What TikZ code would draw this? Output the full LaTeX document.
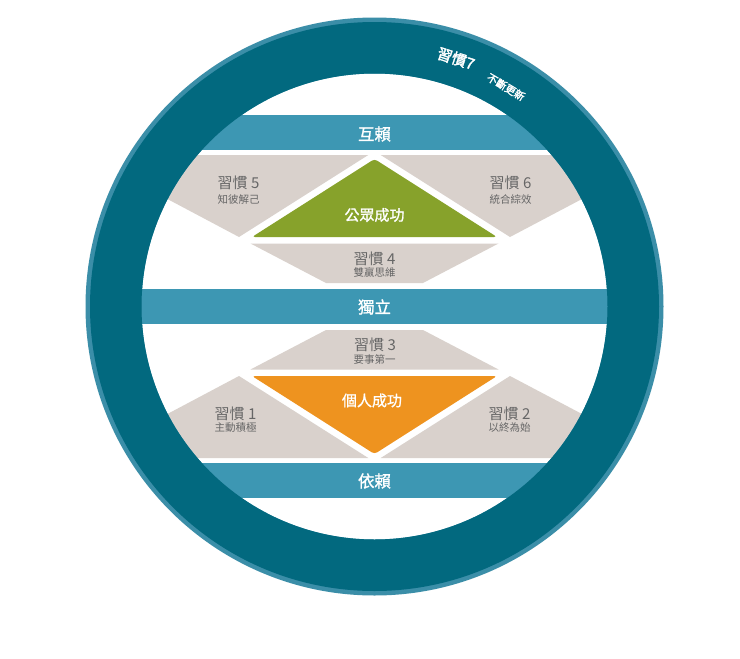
\documentclass[tikz,border=0pt]{standalone}
\usepackage{fontspec}
\setmainfont{Noto Sans CJK TC}
\newfontfamily\medfont{Noto Sans CJK TC}[FakeBold=1.2]
\newfontfamily\boldfont{Noto Sans CJK TC}[FakeBold=2]
\definecolor{ringc}{HTML}{02697F}
\definecolor{rimc}{HTML}{3B8EA8}
\definecolor{bandc}{HTML}{3D97B3}
\definecolor{grayc}{HTML}{D9D1CC}
\definecolor{greenc}{HTML}{87A22B}
\definecolor{orangec}{HTML}{EE931F}
\definecolor{txtc}{HTML}{666666}
\tikzset{
  bandtext/.style={text=white, inner sep=0pt, font=\medfont\fontsize{16.5}{17}\selectfont},
  wintext/.style={text=white, inner sep=0pt, font=\medfont\fontsize{15}{16}\selectfont},
  habittitle/.style={text=txtc, inner sep=0pt, font=\fontsize{15}{16}\selectfont},
  habitsub/.style={text=txtc, inner sep=0pt, font=\fontsize{10.5}{11}\selectfont},
  ringbig/.style={text=white, inner sep=0pt, font=\boldfont\fontsize{15}{15}\selectfont},
  ringsmall/.style={text=white, inner sep=0pt, font=\boldfont\fontsize{10.5}{11}\selectfont},
}
\begin{document}
\begin{tikzpicture}[x=1pt,y=-1pt]
\fill[white] (0,0) rectangle (740,659);
\useasboundingbox (0,0) rectangle (740,659);
\coordinate (c) at (374.5,306.5);
\begin{scope}
  \clip (c) circle[radius=286pt];
  % bands
  \fill[bandc] (0,115) rectangle (740,150);
  \fill[bandc] (0,289) rectangle (740,324);
  \fill[bandc] (0,463) rectangle (740,498);
  % upper half
  \fill[grayc] (239,237) -- (368.3,155) -- (60,155) -- (60,142) -- cycle;
  \fill[grayc] (510,237) -- (380.7,155) -- (690,155) -- (690,142) -- cycle;
  \fill[grayc] (250.5,243.5) -- (498.5,243.5) -- (423,283) -- (326,283) -- cycle;
  \fill[greenc, rounded corners=3pt] (374.5,159) -- (497,237) -- (252,237) -- cycle;
  % lower half
  \fill[grayc] (239,376) -- (368.3,458) -- (60,458) -- (60,471) -- cycle;
  \fill[grayc] (510,376) -- (380.7,458) -- (690,458) -- (690,471) -- cycle;
  \fill[grayc] (250.5,369.5) -- (498.5,369.5) -- (423,330) -- (326,330) -- cycle;
  \fill[orangec, rounded corners=3pt] (374.5,454) -- (497,376) -- (252,376) -- cycle;
\end{scope}
% ring
\fill[rimc, even odd rule] (c) circle[radius=289pt] (c) circle[radius=233pt];
\fill[ringc, even odd rule] (c) circle[radius=284.5pt] (c) circle[radius=233pt];
% band labels
\node[bandtext] (interdep) at (374.5,134) {互賴};
\node[bandtext] (indep) at (374.5,307) {獨立};
\node[bandtext] (dep) at (374.5,481) {依賴};
% victories
\node[wintext] (public) at (374.5,215) {公眾成功};
\node[wintext] (private) at (372,400.5) {個人成功};
% habits
\node[habittitle] (h5) at (238.5,183) {習慣 5};
\node[habitsub] (h5s) at (238.5,199.5) {知彼解己};
\node[habittitle] (h6) at (510.5,183) {習慣 6};
\node[habitsub] (h6s) at (510.5,199.5) {統合綜效};
\node[habittitle] (h4) at (374.5,258.5) {習慣 4};
\node[habitsub] (h4s) at (374.5,272.5) {雙贏思維};
\node[habittitle] (h3) at (375,345) {習慣 3};
\node[habitsub] (h3s) at (374.5,359.5) {要事第一};
\node[habittitle] (h1) at (235.5,414) {習慣 1};
\node[habitsub] (h1s) at (235.5,428) {主動積極};
\node[habittitle] (h2) at (509.5,414) {習慣 2};
\node[habitsub] (h2s) at (509.5,428) {以終為始};
% ring text
\node[ringbig, rotate=-18.2] (habit7) at (456,58.5) {習慣7};
\node[ringsmall, rotate=-30.9] (renew) at (506,87) {不斷更新};
\end{tikzpicture}
\end{document}
